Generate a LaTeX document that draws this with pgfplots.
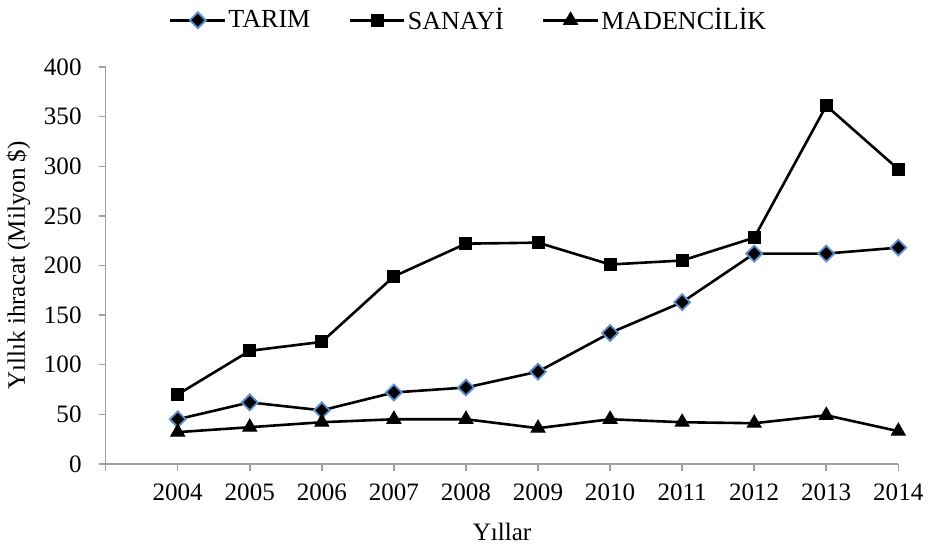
\documentclass[border=0pt]{standalone}
\usepackage{pgfplots}
\pgfplotsset{compat=1.18}
\usepackage{fontspec}
\setmainfont{Liberation Serif}
\definecolor{axgray}{HTML}{A0A0A0}
\definecolor{dblue}{HTML}{5B8FCF}
\begin{document}
\begin{tikzpicture}
\begin{axis}[
  scale only axis,
  width=395.5pt, height=198pt,
  xmin=2003, xmax=2014,
  ymin=0, ymax=400,
  xtick={2003,2004,...,2014},
  xticklabels={,2004,2005,2006,2007,2008,2009,2010,2011,2012,2013,2014},
  ytick={0,50,...,400},
  axis lines*=left,
  axis line style={axgray, line width=0.75pt},
  every tick/.style={axgray, line width=0.75pt},
  tick align=outside,
  major tick length=3.5pt,
  tick label style={font=\fontsize{12.5}{15}\selectfont, black},
  /pgf/number format/assume math mode=true,
  xticklabel style={yshift=-3pt},
  yticklabel style={xshift=-5pt},
  ylabel={Yıllık ihracat (Milyon \$)},
  xlabel={Yıllar},
  label style={font=\fontsize{12.5}{15}\selectfont},
  ylabel style={at={(axis description cs:-0.11,0.5)}, anchor=center},
  xlabel style={at={(axis description cs:0.5,-0.172)}, anchor=center},
  legend columns=3,
  legend style={draw=none, at={(axis description cs:0.458,1.17)}, anchor=north,
    font=\fontsize{13}{15}\selectfont,
    nodes={inner xsep=1pt},
    /tikz/every odd column/.append style={column sep=0pt},
    /tikz/every even column/.append style={column sep=18pt}},
  legend image code/.code={\draw[mark repeat=2,mark phase=2] plot coordinates {(0cm,0cm) (0.48cm,0cm) (0.96cm,0cm)};},
  every axis plot/.append style={line width=1.3pt, black},
  clip=false,
]
\addplot[mark=square*, mark size=2.8pt, mark options={rotate=45, fill=black, draw=dblue, line width=0.9pt}]
 coordinates {(2004,45) (2005,62) (2006,54) (2007,72) (2008,77) (2009,93) (2010,132) (2011,163) (2012,212) (2013,212) (2014,218)};
\addlegendentry{TARIM}
\addplot[mark=square*, mark size=3pt, mark options={fill=black, draw=black, line width=0.5pt}]
 coordinates {(2004,70) (2005,114) (2006,123) (2007,189) (2008,222) (2009,223) (2010,201) (2011,205) (2012,228) (2013,361) (2014,297)};
\addlegendentry{SANAYİ}
\addplot[mark=triangle*, mark size=4pt, mark options={fill=black, draw=black, line width=0.5pt}]
 coordinates {(2004,32) (2005,37) (2006,42) (2007,45) (2008,45) (2009,36) (2010,45) (2011,42) (2012,41) (2013,49) (2014,33)};
\addlegendentry{MADENCİLİK}
\end{axis}
\end{tikzpicture}
\end{document}
